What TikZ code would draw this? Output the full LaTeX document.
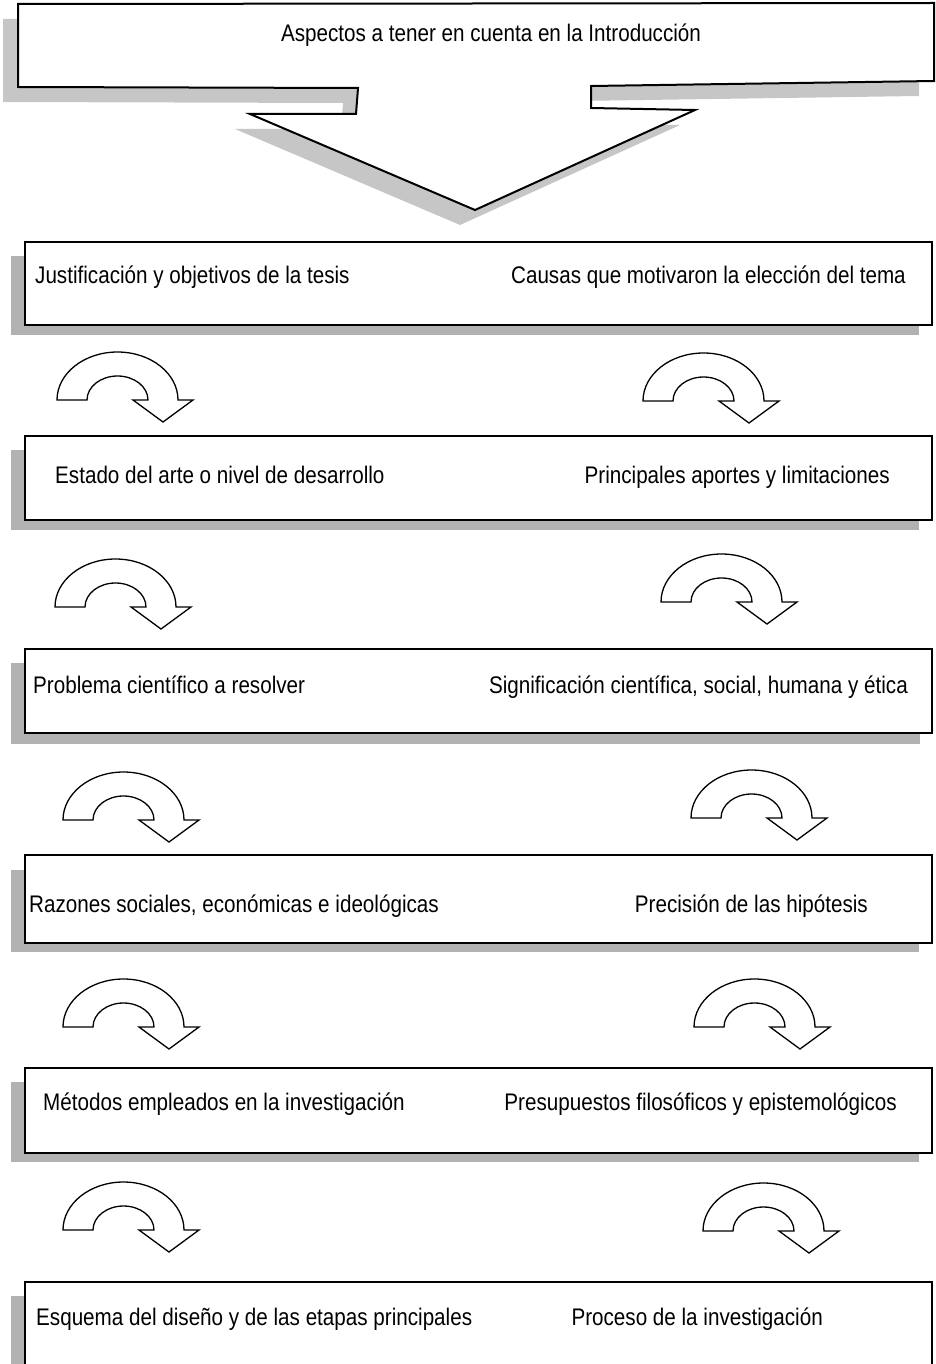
\documentclass[tikz,border=0pt]{standalone}
\usepackage{fontspec}
\newfontfamily\labelfont{Liberation Sans}[FakeStretch=0.86]
\definecolor{boxshadow}{HTML}{B2B2B2}
\definecolor{calloutshadow}{HTML}{C6C6C6}
\begin{document}
\begin{tikzpicture}[x=1pt,y=-1pt,
  txt/.style={inner sep=0pt, font=\labelfont\fontsize{24}{28}\selectfont},
  stagebox/.style={draw=black, line width=2.5pt, fill=white, rectangle},
  shade/.style={fill=boxshadow, draw=none},
  bendarrow/.pic={
    \draw[line width=1.3pt, fill=white, line join=miter]
      (0,0) arc[start angle=180, end angle=0, x radius=60.5pt, y radius=48pt]
      -- (136,0) -- (106,22) -- (76,0) -- (91,0)
      arc[start angle=0, end angle=180, x radius=30.5pt, y radius=24pt]
      -- cycle;
  }]
\useasboundingbox (0,0) rectangle (936,1364);
\clip (0,0) rectangle (936,1364);

% title callout with its shadow
\fill[calloutshadow, shift={(-15,15)}]
  (18,4) -- (934,3) -- (934,81) -- (591,86) -- (591,108) -- (695,110)
  -- (475,210) -- (250,114) -- (356,114) -- (358,88) -- (18,87) -- cycle;
\draw[line width=2pt, fill=white, line join=miter]
  (18,4) -- (934,3) -- (934,81) -- (591,86) -- (591,108) -- (695,110)
  -- (475,210) -- (250,114) -- (356,114) -- (358,88) -- (18,87) -- cycle;
\node[txt] (title) at (491,35) {Aspectos a tener en cuenta en la Introducción};

% shadows of the stage boxes
\fill[shade] (11,256) rectangle (919,335);
\fill[shade] (11,450) rectangle (919,530);
\fill[shade] (11,663) rectangle (920,744);
\fill[shade] (11,870) rectangle (919,952);
\fill[shade] (11,1082) rectangle (919,1162);
\fill[shade] (11,1296) rectangle (919,1380);

% stage boxes
\node[stagebox, minimum width=907pt, minimum height=83pt] (b1) at (478.5,283.5) {};
\node[stagebox, minimum width=907pt, minimum height=84pt] (b2) at (478.5,478) {};
\node[stagebox, minimum width=907pt, minimum height=84pt] (b3) at (478.5,691) {};
\node[stagebox, minimum width=907pt, minimum height=88pt] (b4) at (478.5,899) {};
\node[stagebox, minimum width=907pt, minimum height=85pt] (b5) at (478.5,1110.5) {};
\node[stagebox, minimum width=907pt, minimum height=100pt] (b6) at (478.5,1332) {};

% labels
\node[txt, anchor=mid west] (l1) at (35,281) {Justificación y objetivos de la tesis};
\node[txt, anchor=mid east] (r1) at (906,281) {Causas que motivaron la elección del tema};
\node[txt, anchor=mid west] (l2) at (55,481) {Estado del arte o nivel de desarrollo};
\node[txt, anchor=mid east] (r2) at (890,481) {Principales aportes y limitaciones};
\node[txt, anchor=mid west] (l3) at (33,691) {Problema científico a resolver};
\node[txt, anchor=mid east] (r3) at (908,691) {Significación científica, social, humana y ética};
\node[txt, anchor=mid west] (l4) at (29,910) {Razones sociales, económicas e ideológicas};
\node[txt, anchor=mid east] (r4) at (868,910) {Precisión de las hipótesis};
\node[txt, anchor=mid west] (l5) at (43,1108) {Métodos empleados en la investigación};
\node[txt, anchor=mid east] (r5) at (897,1108) {Presupuestos filosóficos y epistemológicos};
\node[txt, anchor=mid west] (l6) at (36,1323) {Esquema del diseño y de las etapas principales};
\node[txt, anchor=mid east] (r6) at (823,1323) {Proceso de la investigación};

% curved arrows between the boxes
\pic at (57,400) {bendarrow};
\pic at (643,401) {bendarrow};
\pic at (55,607) {bendarrow};
\pic at (661,602) {bendarrow};
\pic at (63,820) {bendarrow};
\pic at (691,818) {bendarrow};
\pic at (63,1027) {bendarrow};
\pic at (694,1027) {bendarrow};
\pic at (63,1230) {bendarrow};
\pic at (703,1231) {bendarrow};
\end{tikzpicture}
\end{document}
